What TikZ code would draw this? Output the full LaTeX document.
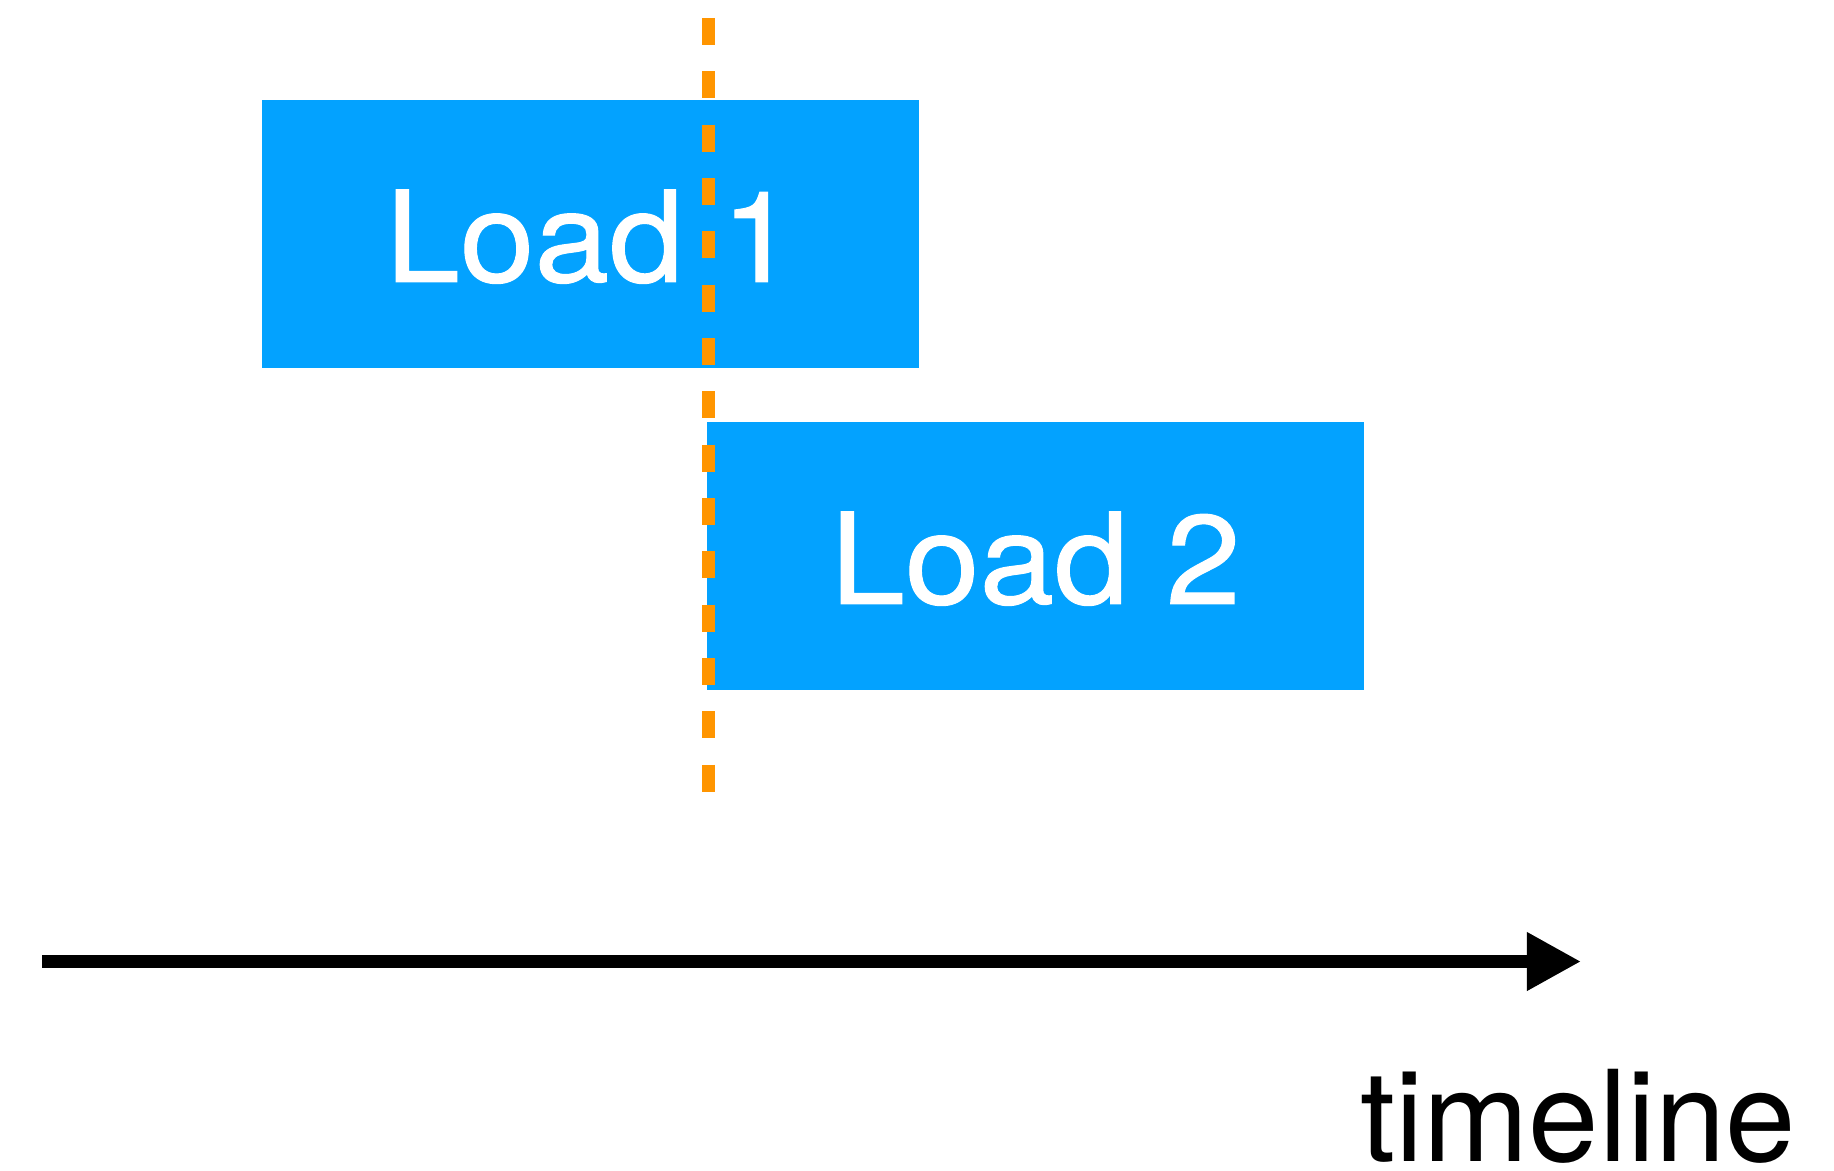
\documentclass[tikz,border=0pt]{standalone}
\usepackage{fontspec}
\setmainfont{TeX Gyre Heros}
\newfontfamily\loadfont[FakeStretch=1.06,FakeBold=0.8]{TeX Gyre Heros}
\usepackage{tikz}
\usetikzlibrary{arrows.meta}
\definecolor{loadblue}{HTML}{03A2FF}
\definecolor{markorange}{HTML}{FF9500}
\tikzset{
    loadbox/.style={
        fill=loadblue,
        draw=none,
        minimum width=6.57cm,
        minimum height=2.67cm,
        text height=0.956cm,
        text depth=0pt,
        text=white,
        font=\loadfont\fontsize{36}{40}\selectfont
    },
    marker/.style={
        draw=markorange,
        line width=0.13cm,
        dash pattern=on 0.27cm off 0.263cm
    },
    axis/.style={
        draw=black,
        line width=0.13cm,
        -{Triangle[length=0.54cm,width=0.55cm]}
    }
}

\begin{document}
\begin{tikzpicture}[x=0.01cm, y=-0.01cm]
\useasboundingbox (0,0) rectangle (1834,1170);

\node[loadbox] (load1) at (590.5,234) {Load 1};
\node[loadbox] (load2) at (1035.5,556) {Load 2};

\coordinate (markTop) at (708,18);
\coordinate (markBot) at (708,792);
\draw[marker] (markTop) -- (markBot);

\coordinate (axisStart) at (42,961.5);
\coordinate (axisEnd) at (1581,961.5);
\draw[axis] (axisStart) -- (axisEnd);

\node[anchor=base east, inner sep=0pt, font=\fontsize{36}{40}\selectfont] (timeline) at (1797,1161) {timeline};
\end{tikzpicture}
\end{document}
